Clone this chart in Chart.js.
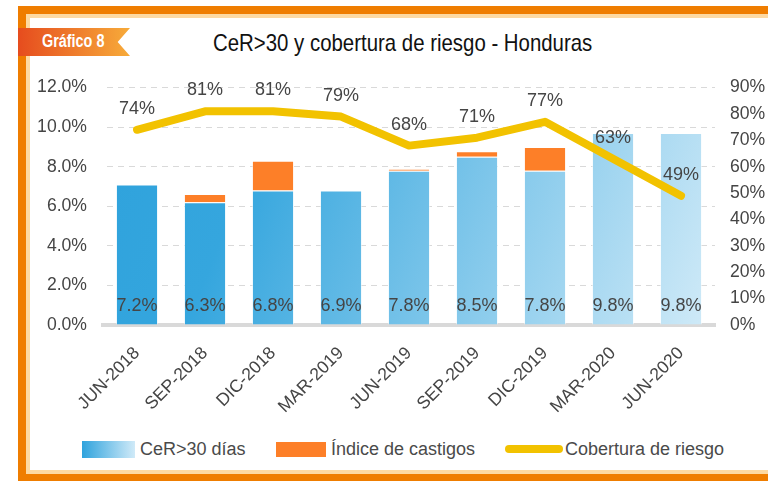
<!DOCTYPE html>
<html lang="es">
<head>
  <meta charset="UTF-8" />
  <title>CeR>30 y cobertura de riesgo - Honduras</title>
  <script src="https://cdn.jsdelivr.net/npm/chart.js"></script>
  <style>
    html, body { margin: 0; padding: 0; background: #fff; }
    body { width: 768px; height: 481px; position: relative; overflow: hidden; font-family: 'Liberation Sans', Arial, sans-serif; }
    .frame { position: absolute; left: 18px; top: 6px; width: 780px; height: 475px; box-sizing: border-box;
             border: 8px solid #ef7d00; border-bottom-width: 7px; }
    .frame-inner { position: absolute; left: 0; top: 0; right: 0; bottom: 0; border: 4px solid #fdd9a2; }
    .tab { position: absolute; left: 18px; top: 28px; width: 112px; height: 28px;
           background: linear-gradient(90deg, #e64c1e, #f7ab3a);
           clip-path: polygon(0 0, 100% 0, 89% 50%, 100% 100%, 0 100%); }
    .tab span { position: absolute; left: 24px; top: 3px; color: #fff; font-weight: bold; font-size: 18px;
                transform: scaleX(0.8); transform-origin: left center; white-space: nowrap; }
    .title { position: absolute; left: 213px; top: 29px; font-size: 24px; color: #111; white-space: nowrap;
             transform: scaleX(0.85); transform-origin: left center; }
    #wrap { position: absolute; left: 30px; top: 61px; width: 738px; height: 370px; }
    .lg { position: absolute; font-size: 18px; color: #4a4a4a; white-space: nowrap; }
    .lg-box { position: absolute; }
  </style>
</head>
<body>
  <div class="frame"><div class="frame-inner"></div></div>
  <div class="tab"><span>Gráfico 8</span></div>
  <div class="title">CeR&gt;30 y cobertura de riesgo - Honduras</div>
  <div id="wrap"><canvas id="chart"></canvas></div>

  <div class="lg-box" style="left:82px;top:441px;width:53px;height:17px;background:linear-gradient(90deg,#2fa3dd,#d0eaf8);"></div>
  <div class="lg" style="left:140px;top:439px;">CeR&gt;30 días</div>
  <div class="lg-box" style="left:276px;top:442px;width:50px;height:15px;background:#fd7f28;"></div>
  <div class="lg" style="left:331px;top:439px;">Índice de castigos</div>
  <div class="lg-box" style="left:505px;top:445px;width:58px;height:8px;border-radius:4px;background:#f2c200;"></div>
  <div class="lg" style="left:565px;top:439px;">Cobertura de riesgo</div>

  <script>
    const periods = ['JUN-2018','SEP-2018','DIC-2018','MAR-2019','JUN-2019','SEP-2019','DIC-2019','MAR-2020','JUN-2020'];
    const cer30 = [7.1, 6.2, 6.8, 6.8, 7.8, 8.5, 7.8, 9.7, 9.7];
    const cer30Labels = ['7.2%','6.3%','6.8%','6.9%','7.8%','8.5%','7.8%','9.8%','9.8%'];
    const castigos = [0, 0.42, 1.5, 0, 0.1, 0.28, 1.2, 0, 0];
    const cobertura = [74, 81, 81, 79, 68, 71, 77, 63, 49];
    const leftTicks = [0, 2, 4, 6, 8, 10, 12];
    const rightTicks = [0, 10, 20, 30, 40, 50, 60, 70, 80, 90];

    const textColor = '#454545';
    const font = { family: "'Liberation Sans', Arial, sans-serif", size: 17.6 };

    // dashed grid: a repeating 6px on / 5px off stroke pattern
    const dashCanvas = document.createElement('canvas');
    dashCanvas.width = 11; dashCanvas.height = 4;
    const dctx = dashCanvas.getContext('2d');
    dctx.fillStyle = '#d9d9d9';
    dctx.fillRect(0, 0, 6, 4);
    const gridPattern = dctx.createPattern(dashCanvas, 'repeat');

    function barGradient(context) {
      const area = context.chart.chartArea;
      if (!area) return '#38a8df';
      const g = context.chart.ctx.createLinearGradient(area.left, area.top, area.right, area.bottom);
      g.addColorStop(0, '#2ea2dc');
      g.addColorStop(0.25, '#35a6de');
      g.addColorStop(1, '#d2ebf8');
      return g;
    }

    // draws the value labels (bars at the bottom, line above its points)
    const valueLabels = {
      id: 'valueLabels',
      afterDatasetsDraw(chart) {
        const ctx = chart.ctx;
        const base = chart.scales.y.getPixelForValue(0);
        ctx.save();
        ctx.font = "18px 'Liberation Sans', Arial, sans-serif";
        ctx.fillStyle = textColor;
        ctx.textAlign = 'center';
        ctx.textBaseline = 'middle';
        chart.getDatasetMeta(0).data.forEach((el, i) => {
          ctx.fillText(cer30Labels[i], el.x, base - 19);
        });
        chart.getDatasetMeta(2).data.forEach((el, i) => {
          ctx.fillText(cobertura[i] + '%', el.x, el.y - 21);
        });
        ctx.restore();
      }
    };

    new Chart(document.getElementById('chart'), {
      type: 'bar',
      data: {
        labels: periods,
        datasets: [
          { label: 'CeR>30 días', data: cer30, backgroundColor: barGradient, borderColor: 'rgba(255,255,255,0.55)',
            borderWidth: 1, yAxisID: 'y', order: 1, barPercentage: 0.62, categoryPercentage: 1 },
          { label: 'Índice de castigos', data: castigos, backgroundColor: '#fd7f28', borderColor: 'rgba(255,255,255,0.4)',
            borderWidth: 1, yAxisID: 'y', order: 1, barPercentage: 0.62, categoryPercentage: 1 },
          { label: 'Cobertura de riesgo', type: 'line', data: cobertura, borderColor: '#f2c200', borderWidth: 8,
            borderCapStyle: 'round', borderJoinStyle: 'round', pointRadius: 0, fill: false, tension: 0,
            yAxisID: 'y1', order: 0 }
        ]
      },
      options: {
        responsive: true,
        maintainAspectRatio: false,
        animation: false,
        layout: { padding: { top: 23, left: 0, right: 0, bottom: 0 } },
        plugins: { legend: { display: false }, tooltip: { enabled: false } },
        scales: {
          x: {
            stacked: true,
            grid: { display: false, drawTicks: false },
            border: { color: '#d9d9d9', width: 4 },
            ticks: { color: textColor, font: font, minRotation: 45, maxRotation: 45, padding: 18, autoSkip: false },
            afterFit(scale) { scale.height = 106; }
          },
          y: {
            stacked: true, min: 0, max: 12,
            grid: { color: gridPattern, drawTicks: false },
            border: { display: false },
            ticks: { color: textColor, font: font, padding: 16, stepSize: 2,
                     callback: v => leftTicks.includes(v) ? v.toFixed(1) + '%' : '' },
            afterFit(scale) { scale.width = 73; }
          },
          y1: {
            position: 'right', min: 0, max: 90,
            grid: { display: false, drawTicks: false },
            border: { display: false },
            ticks: { color: textColor, font: font, padding: 15, stepSize: 10,
                     callback: v => rightTicks.includes(v) ? v + '%' : '' },
            afterFit(scale) { scale.width = 53; }
          }
        }
      },
      plugins: [valueLabels]
    });
  </script>
</body>
</html>
